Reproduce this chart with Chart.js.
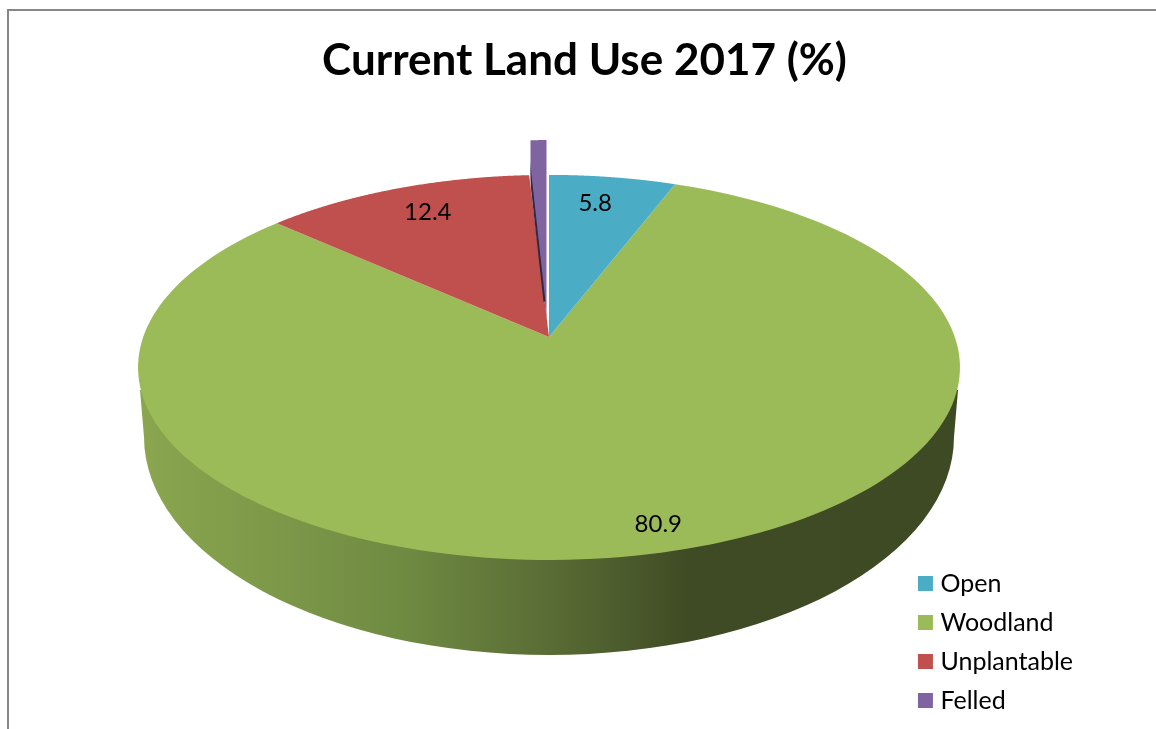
<!DOCTYPE html>
<html>
<head>
<meta charset="utf-8">
<title>Current Land Use 2017</title>
<script src="https://cdn.jsdelivr.net/npm/chart.js@4"></script>
<style>
    html, body { margin: 0; padding: 0; background: #fff; overflow: hidden; }
    #frame { position: absolute; left: 7px; top: 9px; width: 1149px; height: 720px; border-left: 2px solid #868686; border-top: 2px solid #868686; box-sizing: border-box; }
    #landUseChart { position: absolute; left: 0; top: 0; }
</style>
</head>
<body>
<div id="frame"></div>
<canvas id="landUseChart" width="1156" height="729"></canvas>
<script>
// Data
const categories = ['Open', 'Woodland', 'Unplantable', 'Felled'];
const landUse = [5.8, 80.9, 12.4, 0.9];
const sliceColors = ['#4bacc6', '#9bbb59', '#c0504d', '#8064a2'];

// Perspective of the tilted disc (screen pixels)
const cx = 549, cy = 337;
const radiusX = 405.8, radiusY = 187.7, tilt = 0.158;

function project(angle, r) {
    const x = Math.cos(angle) * r;
    const y = Math.sin(angle) * r;
    const w = 1 - tilt * y;
    return { x: cx + radiusX * x / w, y: cy + radiusY * y / w };
}

function slicePath(ctx, arc, map) {
    ctx.beginPath();
    let p = map(project(arc.startAngle, 0));
    ctx.moveTo(p.x, p.y);
    const steps = 180;
    for (let i = 0; i <= steps; i++) {
        const a = arc.startAngle + (arc.endAngle - arc.startAngle) * i / steps;
        p = map(project(a, 1));
        ctx.lineTo(p.x, p.y);
    }
    ctx.closePath();
}

const same = function (p) { return p; };

// The felled slice is pulled away from the pie
const felledShift = function (p) {
    return { x: p.x - 2.5, y: (p.y - cy) * 1.11 + 320 };
};

function drawWall(ctx) {
    const grad = ctx.createLinearGradient(140, 0, 960, 0);
    grad.addColorStop(0, '#8ba64f');
    grad.addColorStop(0.32, '#6f8b42');
    grad.addColorStop(0.5, '#5a6c35');
    grad.addColorStop(0.67, '#3f4b24');
    grad.addColorStop(1, '#3e4a23');
    ctx.fillStyle = grad;
    ctx.beginPath();
    ctx.moveTo(140, 390);
    ctx.lineTo(144, 437);
    ctx.ellipse(549, 437, 405, 218, 0, Math.PI, 0, true);
    ctx.lineTo(958, 390);
    ctx.closePath();
    ctx.fill();
}

const tiltedPie = {
    id: 'tiltedPie',
    beforeDatasetsDraw(chart) {
        const ctx = chart.ctx;
        const arcs = chart.getDatasetMeta(0).data;
        ctx.save();
        drawWall(ctx);

        // felled goes first so the red slice sits over its tip
        ctx.save();
        ctx.beginPath();
        ctx.rect(530.5, 0, 100, 729);
        ctx.clip();
        ctx.fillStyle = sliceColors[3];
        slicePath(ctx, arcs[3], felledShift);
        ctx.fill();
        ctx.restore();

        [1, 2, 0].forEach(function (i) {
            ctx.fillStyle = sliceColors[i];
            slicePath(ctx, arcs[i], same);
            ctx.fill();
        });

        // dark cut face of the felled slice
        const from = felledShift(project(arcs[3].startAngle, 0.09));
        const to = felledShift(project(arcs[3].startAngle, 0.92));
        ctx.save();
        ctx.beginPath();
        ctx.rect(530.5, 0, 100, 729);
        ctx.clip();
        ctx.strokeStyle = '#2e2a45';
        ctx.lineWidth = 2;
        ctx.beginPath();
        ctx.moveTo(from.x, from.y);
        ctx.lineTo(to.x, to.y);
        ctx.stroke();
        ctx.restore();

        // value labels (the felled slice has none)
        const labelR = [0.815, 0.887, 0.825];
        const labelDx = [-7, 12, 8];
        ctx.fillStyle = '#000';
        ctx.font = '24px Lato';
        ctx.textAlign = 'center';
        ctx.textBaseline = 'middle';
        labelR.forEach(function (r, i) {
            const mid = (arcs[i].startAngle + arcs[i].endAngle) / 2;
            const p = project(mid, r);
            ctx.fillText(landUse[i].toFixed(1), p.x + labelDx[i], p.y);
        });
        ctx.restore();
        return false;
    }
};

new Chart(document.getElementById('landUseChart').getContext('2d'), {
    type: 'pie',
    data: {
        labels: categories,
        datasets: [{
            data: landUse,
            backgroundColor: sliceColors,
            borderWidth: 0
        }]
    },
    options: {
        responsive: false,
        animation: false,
        layout: { padding: { left: 86, top: 34, right: 73, bottom: 2 } },
        plugins: {
            title: {
                display: true,
                text: 'Current Land Use 2017 (%)',
                color: '#000',
                font: { family: 'Lato', size: 44, weight: 'bold' },
                padding: { top: 0, bottom: 0 }
            },
            legend: {
                position: 'right',
                align: 'end',
                labels: {
                    color: '#000',
                    font: { family: 'Lato', size: 25 },
                    // small box plus a thick same-colour edge keeps the text close to it
                    boxWidth: 5,
                    boxHeight: 5,
                    padding: 14,
                    generateLabels: function () {
                        return categories.map(function (name, i) {
                            return {
                                text: name,
                                fillStyle: sliceColors[i],
                                strokeStyle: sliceColors[i],
                                lineWidth: 10,
                                lineJoin: 'miter',
                                hidden: false,
                                index: i
                            };
                        });
                    }
                }
            },
            tooltip: { enabled: false }
        }
    },
    plugins: [tiltedPie]
});
</script>
</body>
</html>
